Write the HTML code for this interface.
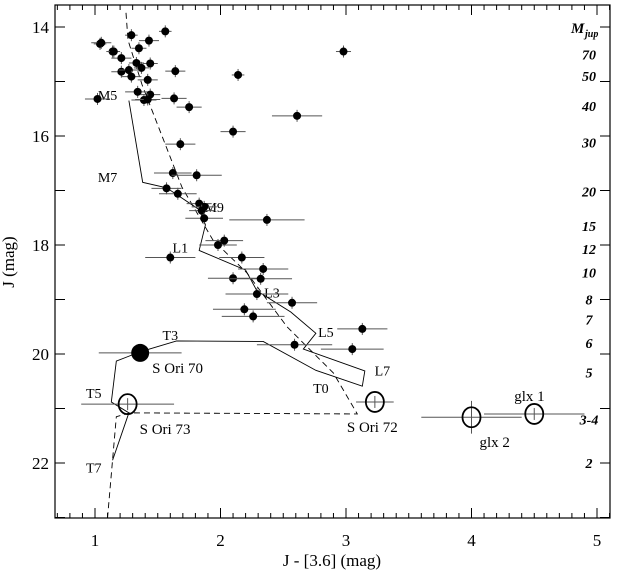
<!DOCTYPE html>
<html><head><meta charset="utf-8"><style>
body{margin:0;background:#fff}
svg{display:block;font-family:"Liberation Serif",serif}
</style></head><body>
<svg id="c" width="623" height="572" viewBox="0 0 623 572" xmlns="http://www.w3.org/2000/svg"></svg>
<script>
const colors=[1.04,1.14,1.29,1.56,1.05,1.43,1.15,1.35,1.21,1.33,1.44,1.37,1.21,1.27,1.29,1.64,2.14,1.42,1.02,1.34,1.44,1.39,1.42,1.63,1.75,2.61,2.10,1.68,1.62,1.81,1.57,1.66,2.98,1.83,1.87,1.85,1.87,2.37,2.03,1.98,1.60,2.17,2.34,2.10,2.32,2.29,2.57,2.19,2.26,3.13,2.59,3.05];
const jmags=[14.31,14.45,14.15,14.08,14.29,14.25,14.45,14.39,14.57,14.66,14.67,14.75,14.82,14.79,14.91,14.81,14.88,14.97,15.32,15.19,15.24,15.34,15.33,15.31,15.47,15.63,15.92,16.15,16.68,16.72,16.96,17.06,14.45,17.24,17.30,17.37,17.51,17.54,17.92,18.00,18.23,18.23,18.44,18.61,18.62,18.90,19.06,19.18,19.31,19.54,19.83,19.91];
const xerrs=[0.05,0.05,0.05,0.05,0.08,0.08,0.05,0.06,0.08,0.06,0.06,0.06,0.08,0.08,0.08,0.08,0.05,0.08,0.1,0.1,0.08,0.1,0.1,0.1,0.1,0.2,0.1,0.12,0.15,0.2,0.12,0.15,0.06,0.1,0.1,0.1,0.15,0.3,0.15,0.15,0.2,0.18,0.2,0.2,0.25,0.25,0.2,0.25,0.25,0.2,0.3,0.25];
const bigNames=["S Ori 70","S Ori 73","S Ori 72","glx 2","glx 1"];
const bigColors=[1.36,1.26,3.23,4.0,4.5];
const bigJ=[19.98,20.92,20.88,21.16,21.1];
const bigXerr=[0.33,0.37,0.15,0.4,0.4];
const bigYerr=[0,0,0,0.3,0];
const massLabels=["70","50","40","30","20","15","12","10","8","7","6","5","3-4","2"];
const massJ=[14.5,14.9,15.45,16.12,17.02,17.65,18.07,18.5,19.0,19.37,19.8,20.34,21.2,22.0];
const seqC=[1.27,1.38,1.57,1.83,1.88,1.83,2.2,2.29,2.56,2.76,2.66,3.15,3.13,2.76,2.34,1.65,1.36,1.17,1.13,1.27,1.14];
const seqJ=[15.35,16.85,16.95,17.35,17.63,18.1,18.46,18.84,19.23,19.62,19.91,20.31,20.59,20.3,19.77,19.76,19.96,20.13,20.88,21.08,21.95];
const seqLab=["M5","M7","M9","L1","L3","L5","L7","T0","T3","T5","T7"];
const seqLabC=[1.1,1.1,1.95,1.68,2.41,2.84,3.29,2.8,1.6,0.99,0.99];
const seqLabJ=[15.25,16.75,17.3,18.05,18.87,19.6,20.3,20.62,19.65,20.72,22.08];
const dashC=[1.247,1.263,1.375,1.693,1.94,2.21,2.53,2.90,3.09,1.28,1.17,1.1];
const dashJ=[13.74,14.24,15.06,16.94,17.91,18.51,19.50,20.35,21.10,21.08,21.15,23.0];
const xTicks=[1,2,3,4,5];
const yTicks=[14,16,18,20,22];

const X=c=>95+(c-1)*125.5, Y=j=>354+(j-20)*54.5;
const svg=document.getElementById('c');const NS='http://www.w3.org/2000/svg';
function mk(t,a,txt){const e=document.createElementNS(NS,t);for(const k in a)e.setAttribute(k,a[k]);if(txt!=null)e.textContent=txt;svg.appendChild(e);return e;}
const L=55,R=610,T=5,B=518;
let e=mk('rect',{x:L,y:T,width:R-L,height:B-T,fill:'none',stroke:'#000','stroke-width':1.2});


for(let v=7;v<=52;v++){const c=v/10,x=X(c);if(x<L||x>R)continue;const len=v%10==0?10:5;
mk('line',{x1:x,y1:B,x2:x,y2:B-len,stroke:'#000'});mk('line',{x1:x,y1:T,x2:x,y2:T+len,stroke:'#000'});}
for(let j=14;j<=23;j++){const y=Y(j);mk('line',{x1:L,y1:y,x2:L+10,y2:y,stroke:'#000'});mk('line',{x1:R,y1:y,x2:R-10,y2:y,stroke:'#000'});}
xTicks.forEach(v=>{e=mk('text',{x:X(v),y:546,'font-size':17,'text-anchor':'middle'},v);

});
yTicks.forEach(v=>{e=mk('text',{x:49,y:Y(v)+6,'font-size':17,'text-anchor':'end'},v);

});
e=mk('text',{x:332,y:566,'font-size':17,'text-anchor':'middle'},'J - [3.6] (mag)');


e=mk('text',{x:0,y:0,'font-size':17,'text-anchor':'middle',transform:'translate(14,262) rotate(-90)'},'J (mag)');


e=mk('polyline',{points:dashC.map((c,i)=>X(c)+','+Y(dashJ[i])).join(' '),fill:'none',stroke:'#000','stroke-width':0.9,'stroke-dasharray':'6,4'});


e=mk('polyline',{points:seqC.map((c,i)=>X(c)+','+Y(seqJ[i])).join(' '),fill:'none',stroke:'#000','stroke-width':0.9});


seqLab.forEach((s,i)=>{e=mk('text',{x:X(seqLabC[i]),y:Y(seqLabJ[i])+5,'font-size':14,'text-anchor':'middle'},s);

});
colors.forEach((c,i)=>{const x=X(c),y=Y(jmags[i]);
mk('line',{x1:X(c-xerrs[i]),y1:y,x2:X(c+xerrs[i]),y2:y,stroke:'#555','stroke-width':1});
mk('line',{x1:x,y1:y-6,x2:x,y2:y+6,stroke:'#555','stroke-width':1});
e=mk('circle',{cx:x,cy:y,r:4,fill:'#000'});

});
const bigLabDx=[12,12,-28,8,-20],bigLabDy=[20,30,30,30,-13];
bigNames.forEach((n,i)=>{const x=X(bigColors[i]),y=Y(bigJ[i]);
mk('line',{x1:X(bigColors[i]-bigXerr[i]),y1:y,x2:X(bigColors[i]+bigXerr[i]),y2:y,stroke:'#555'});
if(bigYerr[i])mk('line',{x1:x,y1:Y(bigJ[i]-bigYerr[i]),x2:x,y2:Y(bigJ[i]+bigYerr[i]),stroke:'#555'});
else mk('line',{x1:x,y1:y-6,x2:x,y2:y+6,stroke:'#555'});
if(i==0)e=mk('circle',{cx:x,cy:y,r:9,fill:'#000'});
else e=mk('ellipse',{cx:x,cy:y,rx:9,ry:10,fill:'none',stroke:'#000','stroke-width':1.8});


e=mk('text',{x:x+bigLabDx[i],y:y+bigLabDy[i],'font-size':15},n);

});
e=mk('text',{x:571,y:33,'font-size':15,'font-weight':'bold','font-style':'italic'},'M');


mk('text',{x:585,y:37,'font-size':10,'font-weight':'bold','font-style':'italic'},'jup');
massLabels.forEach((m,i)=>{e=mk('text',{x:589,y:Y(massJ[i])+5,'font-size':14,'font-weight':'bold','font-style':'italic','text-anchor':'middle'},m);

});
</script>
</body></html>
